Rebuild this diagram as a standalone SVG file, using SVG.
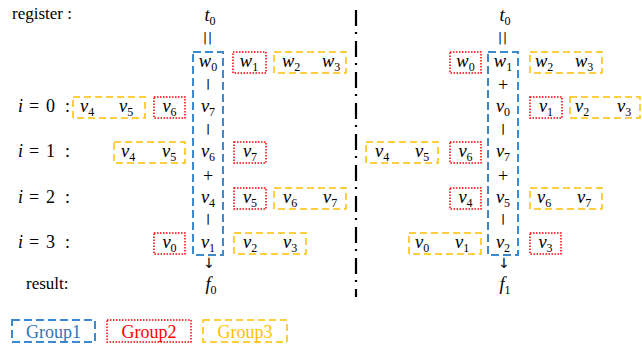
<svg xmlns="http://www.w3.org/2000/svg" width="642" height="344" viewBox="0 0 642 344">
<style>
.g1{fill:none;stroke:#3A8AD0;stroke-width:2;stroke-dasharray:8 4}
.g2{fill:none;stroke:#FF0000;stroke-width:1.5;stroke-dasharray:1.5 1.5}
.g3{fill:none;stroke:#FFC000;stroke-width:1.5;stroke-dasharray:7 4}
.m{font-family:"Liberation Serif",serif;font-size:18.5px;font-style:italic;fill:#000}
.c{text-anchor:middle}
.s{font-size:12px;font-style:normal}
.up{font-family:"Liberation Serif",serif;font-size:18px;fill:#000}
.bar{font-family:"DejaVu Sans",sans-serif;font-size:10px;font-weight:bold;fill:#000;text-anchor:middle}
.bar2{font-family:"DejaVu Sans",sans-serif;font-size:12px;fill:#000;text-anchor:middle;letter-spacing:1px}
.plus{font-family:"Liberation Serif",serif;font-size:18px;fill:#000;text-anchor:middle}
.arr{font-family:"DejaVu Sans",sans-serif;font-size:14px;fill:#000;text-anchor:middle}
.lbl{font-family:"Liberation Serif",serif;font-size:17px;fill:#000}
.leg{font-family:"Liberation Serif",serif;font-size:18px;text-anchor:middle}
</style>

<!-- labels -->
<g id="labels">
<text class="lbl" x="12" y="19">register :</text>
<text class="up" x="18" y="112"><tspan font-style="italic">i</tspan></text><text class="up" x="29" y="112">=</text><text class="up" x="46" y="112">0</text><text class="up" x="65" y="112">:</text>
<text class="up" x="18" y="157"><tspan font-style="italic">i</tspan></text><text class="up" x="29" y="157">=</text><text class="up" x="46" y="157">1</text><text class="up" x="65" y="157">:</text>
<text class="up" x="18" y="203"><tspan font-style="italic">i</tspan></text><text class="up" x="29" y="203">=</text><text class="up" x="46" y="203">2</text><text class="up" x="65" y="203">:</text>
<text class="up" x="18" y="248"><tspan font-style="italic">i</tspan></text><text class="up" x="29" y="248">=</text><text class="up" x="46" y="248">3</text><text class="up" x="65" y="248">:</text>
<text class="lbl" x="26" y="289">result:</text>
</g>

<!-- left column (Group1) -->
<g id="left-column">
<text class="m c" x="210" y="21">t<tspan class="s" dy="4">0</tspan></text>
<text class="bar2" x="208" y="42">||</text>
<rect class="g1" x="193" y="52" width="30" height="203"/>
<text class="m c" x="208" y="67">w<tspan class="s" dy="4">0</tspan></text>
<text class="bar" x="208" y="87">|</text>
<text class="m c" x="208" y="112">v<tspan class="s" dy="4">7</tspan></text>
<text class="bar" x="208" y="132">|</text>
<text class="m c" x="208" y="157">v<tspan class="s" dy="4">6</tspan></text>
<text class="plus" x="208" y="182">+</text>
<text class="m c" x="208" y="203">v<tspan class="s" dy="4">4</tspan></text>
<text class="bar" x="208" y="222">|</text>
<text class="m c" x="208" y="248">v<tspan class="s" dy="4">1</tspan></text>
<text class="arr" x="209" y="268">↓</text>
<text class="m c" x="211" y="290">f<tspan class="s" dy="4">0</tspan></text>
</g>

<!-- left nodes -->
<g id="L-w1"><rect class="g2" x="233" y="52" width="33" height="21"/><text class="m c" x="249" y="67">w<tspan class="s" dy="4">1</tspan></text></g>
<g id="L-w2w3"><rect class="g3" x="274" y="52" width="72" height="21"/><text class="m" x="282" y="67">w<tspan class="s" dy="4">2</tspan></text><text class="m" x="322" y="67">w<tspan class="s" dy="4">3</tspan></text></g>

<g id="L0-v4v5"><rect class="g3" x="73" y="97" width="72" height="21"/><text class="m" x="80" y="112">v<tspan class="s" dy="4">4</tspan></text><text class="m" x="119" y="112">v<tspan class="s" dy="4">5</tspan></text></g>
<g id="L0-v6"><rect class="g2" x="154" y="97" width="31" height="21"/><text class="m c" x="169.5" y="112">v<tspan class="s" dy="4">6</tspan></text></g>

<g id="L1-v4v5"><rect class="g3" x="114" y="142" width="71" height="21"/><text class="m" x="121" y="157">v<tspan class="s" dy="4">4</tspan></text><text class="m" x="162" y="157">v<tspan class="s" dy="4">5</tspan></text></g>
<g id="L1-v7"><rect class="g2" x="234" y="142" width="32" height="21"/><text class="m c" x="250" y="157">v<tspan class="s" dy="4">7</tspan></text></g>

<g id="L2-v5"><rect class="g2" x="234" y="188" width="32" height="21"/><text class="m c" x="250" y="203">v<tspan class="s" dy="4">5</tspan></text></g>
<g id="L2-v6v7"><rect class="g3" x="274" y="188" width="72" height="21"/><text class="m" x="283" y="203">v<tspan class="s" dy="4">6</tspan></text><text class="m" x="323" y="203">v<tspan class="s" dy="4">7</tspan></text></g>

<g id="L3-v0"><rect class="g2" x="154" y="233" width="31" height="21"/><text class="m c" x="169.5" y="248">v<tspan class="s" dy="4">0</tspan></text></g>
<g id="L3-v2v3"><rect class="g3" x="234" y="233" width="72" height="21"/><text class="m" x="243" y="248">v<tspan class="s" dy="4">2</tspan></text><text class="m" x="283" y="248">v<tspan class="s" dy="4">3</tspan></text></g>

<!-- divider -->
<g id="divider">
<line x1="356" y1="10" x2="356" y2="297" stroke="#000" stroke-width="2.2" stroke-dasharray="16 6 2 7"/>
</g>

<!-- right column (Group1) -->
<g id="right-column">
<text class="m c" x="505" y="21">t<tspan class="s" dy="4">0</tspan></text>
<text class="bar2" x="503" y="42">||</text>
<rect class="g1" x="488" y="52" width="30" height="203"/>
<text class="m c" x="503" y="67">w<tspan class="s" dy="4">1</tspan></text>
<text class="plus" x="503" y="90.5">+</text>
<text class="m c" x="503" y="112">v<tspan class="s" dy="4">0</tspan></text>
<text class="bar" x="503" y="132">|</text>
<text class="m c" x="503" y="157">v<tspan class="s" dy="4">7</tspan></text>
<text class="plus" x="503" y="182">+</text>
<text class="m c" x="503" y="203">v<tspan class="s" dy="4">5</tspan></text>
<text class="bar" x="503" y="222">|</text>
<text class="m c" x="503" y="248">v<tspan class="s" dy="4">2</tspan></text>
<text class="arr" x="504" y="268">↓</text>
<text class="m c" x="505" y="290">f<tspan class="s" dy="4">1</tspan></text>
</g>

<!-- right nodes -->
<g id="R-w0"><rect class="g2" x="450" y="52" width="31" height="21"/><text class="m c" x="465.5" y="67">w<tspan class="s" dy="4">0</tspan></text></g>
<g id="R-w2w3"><rect class="g3" x="530" y="52" width="72" height="21"/><text class="m" x="535" y="67">w<tspan class="s" dy="4">2</tspan></text><text class="m" x="575" y="67">w<tspan class="s" dy="4">3</tspan></text></g>

<g id="R0-v1"><rect class="g2" x="530" y="97" width="32" height="21"/><text class="m c" x="546" y="112">v<tspan class="s" dy="4">1</tspan></text></g>
<g id="R0-v2v3"><rect class="g3" x="570" y="97" width="70" height="21"/><text class="m" x="575" y="112">v<tspan class="s" dy="4">2</tspan></text><text class="m" x="617" y="112">v<tspan class="s" dy="4">3</tspan></text></g>

<g id="R1-v4v5"><rect class="g3" x="366" y="142" width="72" height="21"/><text class="m" x="375" y="157">v<tspan class="s" dy="4">4</tspan></text><text class="m" x="415" y="157">v<tspan class="s" dy="4">5</tspan></text></g>
<g id="R1-v6"><rect class="g2" x="450" y="142" width="31" height="21"/><text class="m c" x="465.5" y="157">v<tspan class="s" dy="4">6</tspan></text></g>

<g id="R2-v4"><rect class="g2" x="450" y="188" width="31" height="21"/><text class="m c" x="465.5" y="203">v<tspan class="s" dy="4">4</tspan></text></g>
<g id="R2-v6v7"><rect class="g3" x="530" y="188" width="72" height="21"/><text class="m" x="537" y="203">v<tspan class="s" dy="4">6</tspan></text><text class="m" x="577" y="203">v<tspan class="s" dy="4">7</tspan></text></g>

<g id="R3-v0v1"><rect class="g3" x="409" y="233" width="72" height="21"/><text class="m" x="415" y="248">v<tspan class="s" dy="4">0</tspan></text><text class="m" x="455" y="248">v<tspan class="s" dy="4">1</tspan></text></g>
<g id="R3-v3"><rect class="g2" x="530" y="233" width="31" height="21"/><text class="m c" x="545.5" y="248">v<tspan class="s" dy="4">3</tspan></text></g>

<!-- legend -->
<g id="legend-group1"><rect class="g1" x="12" y="320" width="83" height="22"/><text class="leg" x="53.5" y="338" fill="#2E75B6">Group1</text></g>
<g id="legend-group2"><rect class="g2" x="107" y="320" width="84" height="22"/><text class="leg" x="149" y="338" fill="#FF0000">Group2</text></g>
<g id="legend-group3"><rect class="g3" x="203" y="320" width="84" height="22"/><text class="leg" x="245" y="338" fill="#FFC000">Group3</text></g>
</svg>
